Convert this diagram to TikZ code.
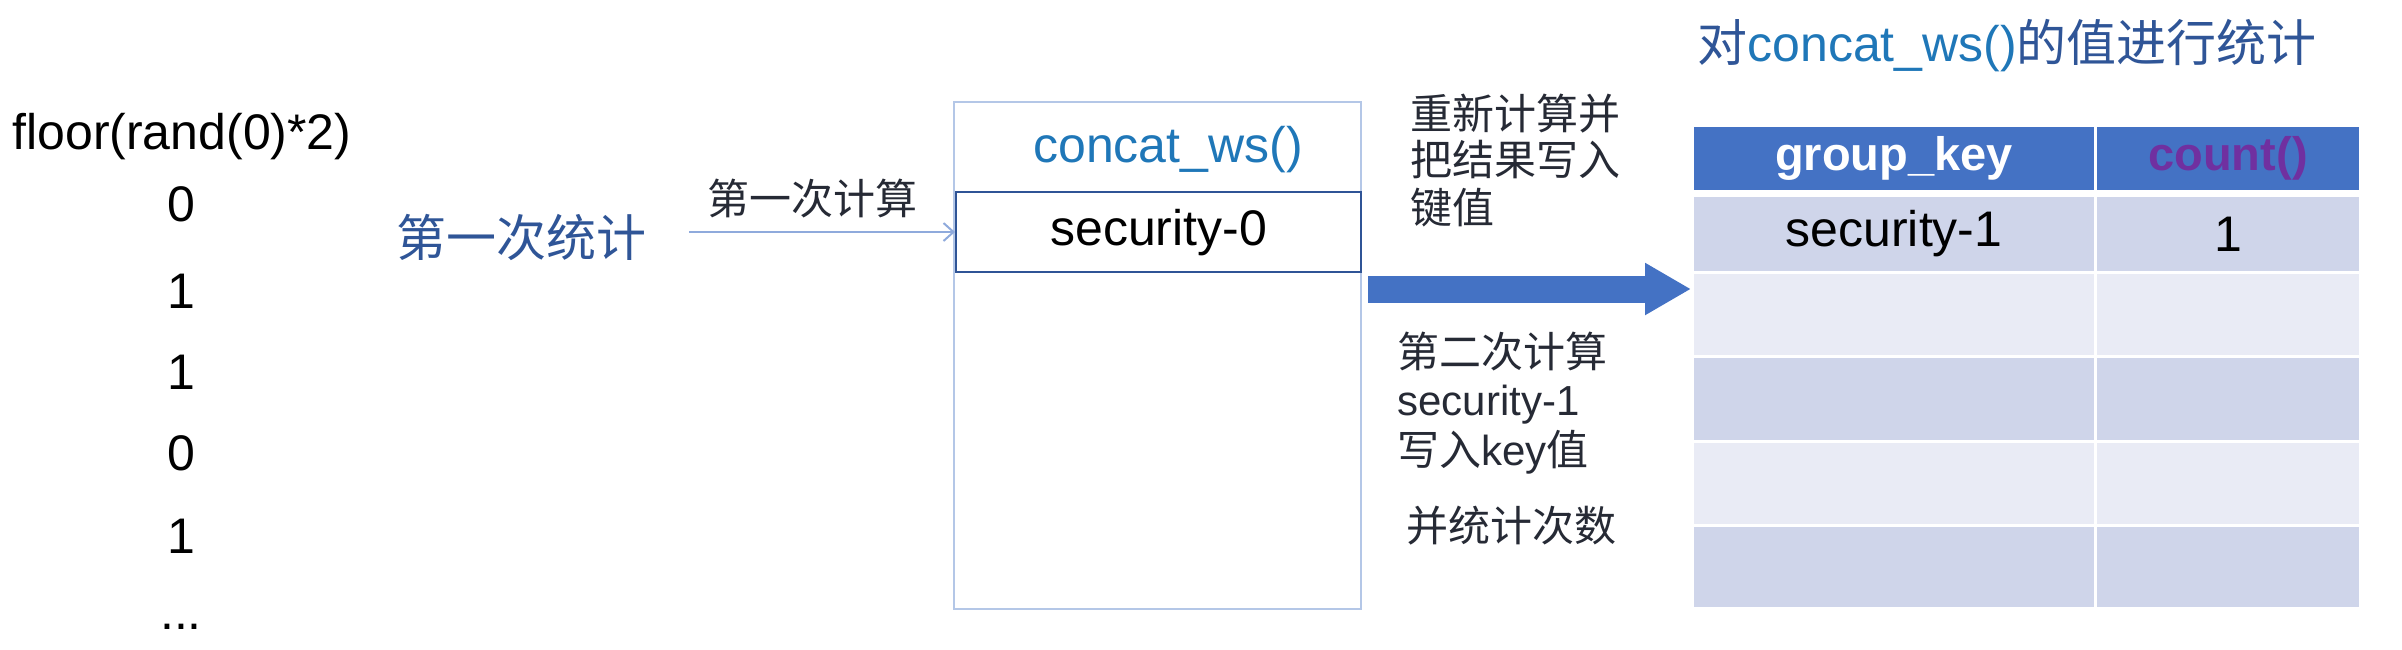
\documentclass[tikz,border=0pt]{standalone}
\usepackage{fontspec}
\setmainfont{Liberation Sans}
\newfontfamily\cjk{Noto Sans CJK SC}
\usetikzlibrary{arrows.meta,calc}
\definecolor{navy}{HTML}{2F5597}
\definecolor{cwblue}{HTML}{1F77B8}
\definecolor{boxline}{HTML}{B4C7E7}
\definecolor{rowline}{HTML}{2F5496}
\definecolor{arrowlt}{HTML}{8FAADC}
\definecolor{hdrblue}{HTML}{4472C4}
\definecolor{rowdark}{HTML}{CFD5EA}
\definecolor{rowlight}{HTML}{E9EBF5}
\definecolor{cntpurple}{HTML}{7030A0}
\definecolor{labeldark}{HTML}{262A35}
\tikzset{
  big/.style={inner sep=0pt, font=\fontsize{25}{30}\selectfont},
  small/.style={inner sep=0pt, font=\fontsize{21}{25}\selectfont, text=labeldark},
  cell/.style={draw=white, line width=1.5pt, inner sep=0pt, anchor=north west, font=\fontsize{25}{30}\selectfont},
  thinarrow/.style={draw=arrowlt, line width=1pt, -{Straight Barb[length=5pt,width=9pt]}},
  bigarrow/.style={draw=hdrblue, line width=13.5pt, -{Triangle[length=23pt,width=24.5pt]}}
}
\begin{document}
\begin{tikzpicture}[x=0.5pt,y=-0.5pt]
\useasboundingbox (0,0) rectangle (2402,649);
% left column
\node[big, anchor=west] (fl) at (12,137) {floor(rand(0)*2)};
\node[big] (d1) at (181,204) {0};
\node[big] (d2) at (181,291) {1};
\node[big] (d3) at (181,372) {1};
\node[big] (d4) at (181,453) {0};
\node[big] (d5) at (181,536) {1};
\node[big] (d6) at (181,627) {...};
% first statistic
\node[big, text=navy, font=\fontsize{25}{30}\selectfont\cjk] (stat1) at (521,237) {第一次统计};
\node[small, font=\fontsize{21}{25}\selectfont\cjk] (calc1) at (812,199) {第一次计算};
% concat box
\node[draw=boxline, line width=1pt, minimum width=203.5pt, minimum height=253.5pt, inner sep=0pt, anchor=north west] (box) at (953,101) {};
\node[big, text=cwblue] (hdr) at (1168,150) {concat\_ws()};
\node[draw=rowline, line width=1.2pt, minimum width=202.5pt, minimum height=40pt, inner sep=0pt, anchor=north west, font=\fontsize{25}{30}\selectfont] (row0) at (955,191) {security-0};
\coordinate (t0) at (689,232);
\draw[thinarrow] (t0) -- (t0 -| row0.west);
% middle labels
\node[small, anchor=west, font=\fontsize{21}{25}\selectfont\cjk] (r1) at (1410,114) {重新计算并};
\node[small, anchor=west, font=\fontsize{21}{25}\selectfont\cjk] (r2) at (1410,160) {把结果写入};
\node[small, anchor=west, font=\fontsize{21}{25}\selectfont\cjk] (r3) at (1410,208) {键值};
\node[small, anchor=west] (s1) at (1397,352) {{\cjk 第二次计算}};
\node[small, anchor=west] (s2) at (1397,405) {security-1};
\node[small, anchor=west] (s3) at (1397,452) {{\cjk 写入}key{\cjk 值}};
\node[small, anchor=west] (s4) at (1406,526) {{\cjk 并统计次数}};
% title
\node[big, anchor=west] (title) at (1697,46) {\textcolor{navy}{\cjk 对}\textcolor{cwblue}{concat\_ws()}\textcolor{navy}{\cjk 的值进行统计}};
% table
\node[cell, fill=hdrblue, minimum width=201.5pt, minimum height=33pt, text=white, font=\fontsize{23.5}{28}\selectfont\bfseries] (h1) at (1691,124) {group\_key};
\node[cell, fill=hdrblue, minimum width=132.5pt, minimum height=33pt, text=cntpurple, font=\fontsize{23.5}{28}\selectfont\bfseries] (h2) at (2094,124) {count()};
\node[cell, fill=rowdark, minimum width=201.5pt, minimum height=38.5pt] (a1) at (1691,194) {security-1};
\node[cell, fill=rowdark, minimum width=132.5pt, minimum height=38.5pt] (b1) at (2094,194) {1};
\node[cell, fill=rowlight, minimum width=201.5pt, minimum height=42pt] (a2) at (1691,271) {};
\node[cell, fill=rowlight, minimum width=132.5pt, minimum height=42pt] (b2) at (2094,271) {};
\node[cell, fill=rowdark, minimum width=201.5pt, minimum height=42.5pt] (a3) at (1691,355) {};
\node[cell, fill=rowdark, minimum width=132.5pt, minimum height=42.5pt] (b3) at (2094,355) {};
\node[cell, fill=rowlight, minimum width=201.5pt, minimum height=42pt] (a4) at (1691,440) {};
\node[cell, fill=rowlight, minimum width=132.5pt, minimum height=42pt] (b4) at (2094,440) {};
\node[cell, fill=rowdark, minimum width=201.5pt, minimum height=41.5pt] (a5) at (1691,524) {};
\node[cell, fill=rowdark, minimum width=132.5pt, minimum height=41.5pt] (b5) at (2094,524) {};
% big arrow
\coordinate (ba) at (1368,289);
\draw[bigarrow] (ba) -- (ba -| a2.west);
\end{tikzpicture}
\end{document}
